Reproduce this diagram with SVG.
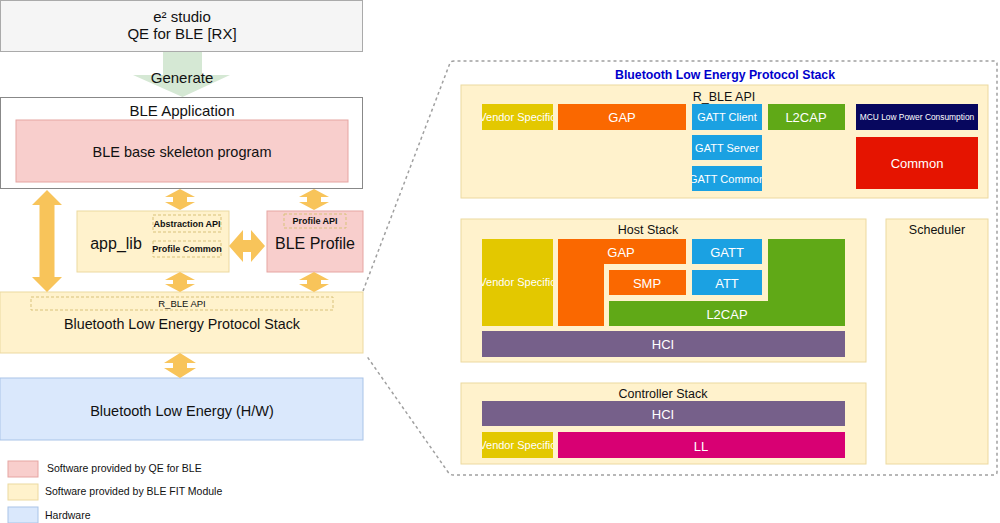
<svg xmlns="http://www.w3.org/2000/svg" width="1000" height="523" viewBox="0 0 1000 523">
<defs>
<style>
text{font-family:"Liberation Sans",Arial,sans-serif;text-anchor:middle;dominant-baseline:central;fill:#111}
.y{fill:#fff2cc;stroke:#ecd9a0;stroke-width:1}
.p{fill:#f8cecc;stroke:#e6a5a2;stroke-width:1}
.b{fill:#dae8fc;stroke:#a9c4e8;stroke-width:1}
.d{fill:none;stroke:#d9c27a;stroke-width:1;stroke-dasharray:3 2}
.arr{fill:#f8c45a;stroke:none}
.w{fill:#fff}
.s{font-weight:bold}
</style>
<clipPath id="cv1"><rect x="482" y="104" width="71" height="26"/></clipPath>
<clipPath id="cv2"><rect x="482" y="239" width="71" height="87"/></clipPath>
<clipPath id="cv3"><rect x="482" y="432" width="71" height="26"/></clipPath>
<clipPath id="cgc"><rect x="692" y="166" width="70" height="25"/></clipPath>
</defs>
<rect width="1000" height="523" fill="#fff"/>

<g id="e2studio">
<rect x="0.5" y="0.5" width="362" height="51" fill="#f5f5f5" stroke="#aaa"/>
<text x="182" y="16" font-size="15">e² studio</text>
<text x="182" y="33" font-size="15">QE for BLE [RX]</text>
</g>

<g id="ble-application">
<rect x="0.5" y="97.5" width="362" height="91" fill="#fff" stroke="#888"/>
<text x="182" y="110" font-size="15">BLE Application</text>
</g>
<g id="skeleton">
<rect class="p" x="16" y="120" width="332" height="62"/>
<text x="182" y="152" font-size="14.5">BLE base skeleton program</text>
</g>

<g id="app_lib">
<rect class="y" x="77" y="211" width="152" height="61"/>
<text x="116" y="243" font-size="16">app_lib</text>
<rect class="d" x="153" y="215" width="68" height="17"/>
<text class="s" x="187" y="223.5" font-size="9">Abstraction API</text>
<rect class="d" x="153" y="241" width="68" height="16"/>
<text class="s" x="187" y="249" font-size="9">Profile Common</text>
</g>

<g id="ble-profile">
<rect class="p" x="267" y="211" width="96" height="61"/>
<rect class="d" x="284" y="214" width="62" height="14"/>
<text class="s" x="315" y="221" font-size="9">Profile API</text>
<text x="315" y="243" font-size="16">BLE Profile</text>
</g>

<g id="protocol-stack">
<rect class="y" x="0" y="292" width="363" height="61"/>
<rect class="d" x="31" y="297" width="302" height="13"/>
<text x="182" y="303.5" font-size="9.5">R_BLE API</text>
<text x="182" y="324" font-size="14.3">Bluetooth Low Energy Protocol Stack</text>
</g>

<g id="hardware">
<rect class="b" x="0" y="378" width="363" height="62"/>
<text x="182" y="411" font-size="14.5">Bluetooth Low Energy (H/W)</text>
</g>

<g id="legend">
<rect class="p" x="8" y="461" width="30" height="16"/>
<text x="47" y="468" font-size="10.5" style="text-anchor:start">Software provided by QE for BLE</text>
<rect class="y" x="8" y="484" width="30" height="16"/>
<text x="45" y="491" font-size="10.5" style="text-anchor:start">Software provided by BLE FIT Module</text>
<rect class="b" x="8" y="507" width="30" height="16"/>
<text x="45" y="515" font-size="10.5" style="text-anchor:start">Hardware</text>
</g>

<g id="connectors">
<path d="M163,52 L202,52 L202,75 L230,75 L182.5,97 L133,75 L163,75 Z" fill="#d5e8d4"/>
<text x="182" y="77" font-size="15">Generate</text>
<path class="arr" d="M47,190 L62,205 L54.5,205 L54.5,277 L62,277 L47,292 L32,277 L39.5,277 L39.5,205 L32,205 Z"/>
<path class="arr" d="M180,189 L195,197 L187,197 L187,202 L195,202 L180,210 L165,202 L173,202 L173,197 L165,197 Z"/>
<path class="arr" d="M314,189 L329,197 L321,197 L321,202 L329,202 L314,210 L299,202 L307,202 L307,197 L299,197 Z"/>
<path class="arr" d="M180,272 L195,280 L187,280 L187,284 L195,284 L180,292 L165,284 L173,284 L173,280 L165,280 Z"/>
<path class="arr" d="M314,272 L329,280 L321,280 L321,284 L329,284 L314,292 L299,284 L307,284 L307,280 L299,280 Z"/>
<path class="arr" d="M180,353 L196,363 L187,363 L187,368 L196,368 L180,378 L164,368 L173,368 L173,363 L164,363 Z"/>
<path class="arr" d="M229,246 L243,230 L243,240 L251,240 L251,230 L265,246 L251,262 L251,252 L243,252 L243,262 Z"/>
<path d="M363,291 L450,63 Q451,61 454,61 L994,61 Q997,61 997,64 L997,472 Q997,475 994,475 L453,475 Q450,475 448,472 L366,355" fill="none" stroke="#a0a0a0" stroke-width="1.5" stroke-dasharray="3 3"/>
</g>

<text x="725" y="75" font-size="12.3" font-weight="bold" style="fill:#0000cc">Bluetooth Low Energy Protocol Stack</text>

<g id="r-ble-api">
<rect class="y" x="461" y="85" width="527" height="113"/>
<text x="724" y="97" font-size="12.5">R_BLE API</text>
<g id="api-vendor"><rect x="482" y="104" width="71" height="26" fill="#e3c800"/><text class="w" x="517.5" y="117" clip-path="url(#cv1)" font-size="11">Vendor Specific</text></g>
<g id="api-gap"><rect x="558" y="104" width="128" height="26" fill="#fa6800"/><text class="w" x="622" y="117" font-size="13">GAP</text></g>
<g id="api-gatt-client"><rect x="692" y="104" width="70" height="26" fill="#1ba1e2"/><text class="w" x="727" y="117" font-size="11">GATT Client</text></g>
<g id="api-gatt-server"><rect x="692" y="135" width="70" height="25" fill="#1ba1e2"/><text class="w" x="727" y="147.5" font-size="11">GATT Server</text></g>
<g id="api-gatt-common"><rect x="692" y="166" width="70" height="25" fill="#1ba1e2"/><text class="w" x="727" y="178.5" clip-path="url(#cgc)" font-size="11">GATT Common</text></g>
<g id="api-l2cap"><rect x="768" y="104" width="77" height="26" fill="#60a917"/><text class="w" x="806" y="117" font-size="13">L2CAP</text></g>
<g id="api-mcu"><rect x="856" y="104" width="122" height="26" fill="#07075e"/><text class="w" x="917" y="117" font-size="8.4">MCU Low Power Consumption</text></g>
<g id="api-common"><rect x="856" y="137" width="122" height="52" fill="#e51400"/><text class="w" x="917" y="163" font-size="13">Common</text></g>
</g>

<g id="host-stack">
<rect class="y" x="461" y="219" width="405" height="143"/>
<text x="648" y="230" font-size="12.5">Host Stack</text>
<g id="host-vendor"><rect x="482" y="239" width="71" height="87" fill="#e3c800"/><text class="w" x="517.5" y="282" clip-path="url(#cv2)" font-size="11">Vendor Specific</text></g>
<g id="host-gap"><path d="M558,239 H686 V264 H604 V326 H558 Z" fill="#fa6800"/><text class="w" x="621" y="252" font-size="13">GAP</text></g>
<g id="host-gatt"><rect x="692" y="239" width="70" height="25" fill="#1ba1e2"/><text class="w" x="727" y="252" font-size="13">GATT</text></g>
<g id="host-smp"><rect x="609" y="270" width="77" height="25" fill="#fa6800"/><text class="w" x="647" y="283" font-size="13">SMP</text></g>
<g id="host-att"><rect x="692" y="270" width="70" height="25" fill="#1ba1e2"/><text class="w" x="727" y="283" font-size="13">ATT</text></g>
<g id="host-l2cap"><path d="M768,239 H845 V326 H609 V301 H768 Z" fill="#60a917"/><text class="w" x="727" y="314" font-size="13">L2CAP</text></g>
<g id="host-hci"><rect x="482" y="331" width="363" height="26" fill="#76608a"/><text class="w" x="663" y="344" font-size="13">HCI</text></g>
</g>

<g id="scheduler">
<rect class="y" x="886" y="219" width="102" height="245"/>
<text x="937" y="230" font-size="12.5">Scheduler</text>
</g>

<g id="controller-stack">
<rect class="y" x="461" y="383" width="405" height="81"/>
<text x="663" y="394" font-size="12.5">Controller Stack</text>
<g id="ctrl-hci"><rect x="482" y="401" width="363" height="25" fill="#76608a"/><text class="w" x="663" y="414" font-size="13">HCI</text></g>
<g id="ctrl-vendor"><rect x="482" y="432" width="71" height="26" fill="#e3c800"/><text class="w" x="517.5" y="445" clip-path="url(#cv3)" font-size="11">Vendor Specific</text></g>
<g id="ctrl-ll"><rect x="558" y="432" width="287" height="26" fill="#d80073"/><text class="w" x="701" y="446" font-size="13">LL</text></g>
</g>
</svg>
